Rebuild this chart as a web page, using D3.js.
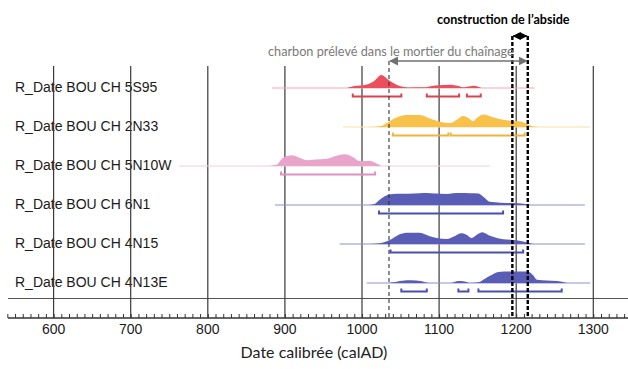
<!DOCTYPE html>
<html>
<head>
<meta charset="utf-8">
<script src="https://cdn.jsdelivr.net/npm/d3@7"></script>
<style>
  body { margin: 0; background: #fff; }
  svg { display: block; }
</style>
</head>
<body>
<svg width="628" height="369"></svg>
<script>
// samples, top to bottom
let labels = ['R_Date BOU CH 5S95', 'R_Date BOU CH 2N33', 'R_Date BOU CH 5N10W',
    'R_Date BOU CH 6N1', 'R_Date BOU CH 4N15', 'R_Date BOU CH 4N13E']
let fills = ['#ea4f5c', '#f8c24a', '#e9a4cc', '#5a5db6', '#5a5db6', '#5a5db6']
let lineColors = ['#f3aab2', '#fbe0a2', '#f0cde2', '#8e90d2', '#8e90d2', '#8e90d2']
let bracketColors = ['#d9434f', '#efb43c', '#df8fc0', '#4a4eb0', '#4a4eb0', '#4a4eb0']

// calibrated probability curves, [year, relative density]
let dens5S95 = [[980, 0], [990, 0.15], [1005, 0.25], [1015, 0.5], [1025, 1.0], [1035, 0.6], [1049, 0.15], [1060, 0.04],
    [1079, 0.05], [1095, 0.2], [1114, 0.25], [1125, 0.15], [1131, 0.05], [1136, 0.1], [1145, 0.18], [1155, 0]]
let dens2N33 = [[1010, 0], [1023, 0.05], [1036, 0.45], [1048, 0.8], [1058, 0.92], [1075, 0.92], [1088, 0.65], [1101, 0.4],
    [1114, 0.3], [1124, 0.6], [1131, 0.85], [1138, 0.7], [1144, 0.45], [1150, 0.75], [1157, 0.97], [1170, 0.75],
    [1183, 0.55], [1207, 0.4], [1215, 0.2], [1225, 0.02], [1235, 0]]
let dens5N10W = [[875, 0], [889, 0.1], [897, 0.6], [909, 0.82], [918, 0.65], [928, 0.45], [940, 0.5], [954, 0.55],
    [968, 0.8], [978, 0.9], [988, 0.7], [997, 0.38], [1005, 0.38], [1010, 0.4], [1017, 0.25], [1025, 0]]
let dens6N1 = [[1008, 0], [1015, 0.05], [1025, 0.5], [1035, 0.8], [1045, 0.87], [1060, 0.87], [1075, 0.9], [1084, 0.92],
    [1095, 0.88], [1110, 0.85], [1118, 0.9], [1127, 0.92], [1140, 0.9], [1151, 0.88], [1158, 0.6], [1166, 0.25],
    [1180, 0.18], [1196, 0.15], [1210, 0.1], [1218, 0]]
let dens4N15 = [[1010, 0], [1023, 0.05], [1036, 0.3], [1047, 0.7], [1058, 0.87], [1075, 0.87], [1088, 0.6], [1097, 0.46],
    [1110, 0.38], [1120, 0.6], [1129, 0.82], [1136, 0.7], [1142, 0.46], [1150, 0.75], [1156, 0.9], [1165, 0.65],
    [1175, 0.46], [1196, 0.3], [1209, 0.2], [1222, 0]]
let dens4N13E = [[1035, 0], [1041, 0.05], [1052, 0.18], [1064, 0.21], [1076, 0.15], [1088, 0], [1115, 0], [1125, 0.15],
    [1133, 0.12], [1140, 0], [1151, 0.05], [1160, 0.35], [1166, 0.55], [1177, 0.85], [1195, 0.88], [1214, 0.88],
    [1222, 0.6], [1227, 0.25], [1240, 0.2], [1253, 0.15], [1266, 0]]
let densities = [dens5S95, dens2N33, dens5N10W, dens6N1, dens4N15, dens4N13E]

// extent of the thin line under each curve
let spans = [[883, 1224], [975, 1296], [763, 1166], [887, 1289], [971, 1289], [1006, 1296]]
// 95% ranges (brackets)
let ranges = [
    [[988, 1051], [1084, 1126], [1136, 1154]],
    [[1040, 1112], [1115, 1211]],
    [[895, 1017]],
    [[1022, 1183]],
    [[1037, 1209]],
    [[1051, 1084], [1125, 1138], [1151, 1259]]
]

let majorTicks = [600, 700, 800, 900, 1000, 1100, 1200, 1300]
let charbonRange = [1035, 1215]
let absideRange = [1195, 1215]

let svg = d3.select('svg')
let x = d3.scaleLinear().domain([600, 1300]).range([53.6, 593.3])
let rowY = d3.scalePoint().domain(labels).range([88, 283])
let h = d3.scaleLinear().domain([0, 1]).range([0, 13])
let axisY = 318

// arrow heads
let defs = svg.append('defs')
function marker(id, color, size) {
    defs.append('marker').attr('id', id).attr('viewBox', '0 0 10 10')
        .attr('refX', 9).attr('refY', 5).attr('markerWidth', size).attr('markerHeight', size)
        .attr('orient', 'auto-start-reverse').attr('markerUnits', 'userSpaceOnUse')
        .append('path').attr('d', 'M0,0 L10,5 L0,10 z').attr('fill', color)
}
marker('arrGray', '#707070', 9)
marker('arrBlack', '#000', 8)

// box bottom line
svg.append('line').attr('x1', 8).attr('x2', 628).attr('y1', 298.5).attr('y2', 298.5)
    .attr('stroke', '#555').attr('stroke-width', 1)

// labels
svg.selectAll('text.lab').data(labels).enter().append('text')
    .attr('x', 15).attr('y', d => rowY(d))
    .attr('dominant-baseline', 'middle')
    .attr('font-family', 'Liberation Sans, Arial, sans-serif').attr('font-size', 14)
    .attr('fill', '#1a1a1a')
    .text(d => d)

// grid lines (over the labels, as in the original)
svg.selectAll('line.grid').data(majorTicks).enter().append('line')
    .attr('x1', d => x(d)).attr('x2', d => x(d))
    .attr('y1', 66).attr('y2', axisY)
    .attr('stroke', '#3a3a3a').attr('stroke-width', 1.2)

let area = d3.area().curve(d3.curveMonotoneX)

labels.forEach((lab, i) => {
    let y0 = rowY(lab)
    let g = svg.append('g')
    g.append('line')
        .attr('x1', x(spans[i][0])).attr('x2', x(spans[i][1]))
        .attr('y1', y0).attr('y2', y0)
        .attr('stroke', lineColors[i]).attr('stroke-width', 1)
    area.x(d => x(d[0])).y0(y0).y1(d => y0 - h(d[1]))
    g.append('path').datum(densities[i])
        .attr('d', area)
        .attr('fill', fills[i])
    g.selectAll('path.br').data(ranges[i]).enter().append('path')
        .attr('d', d => {
            let by = y0 + 8.5
            return `M${x(d[0])},${by - 3}L${x(d[0])},${by}L${x(d[1])},${by}L${x(d[1])},${by - 3}`
        })
        .attr('fill', 'none').attr('stroke', bracketColors[i]).attr('stroke-width', 2)
})

// dashed marker lines
svg.append('line')
    .attr('x1', x(charbonRange[0])).attr('x2', x(charbonRange[0]))
    .attr('y1', 61).attr('y2', axisY)
    .attr('stroke', '#333').attr('stroke-width', 1.1).attr('stroke-dasharray', '4,3')
svg.selectAll('line.abs').data(absideRange).enter().append('line')
    .attr('x1', d => x(d)).attr('x2', d => x(d))
    .attr('y1', 36).attr('y2', axisY)
    .attr('stroke', '#000').attr('stroke-width', 2.4).attr('stroke-dasharray', '4,2')

// arrows
svg.append('line')
    .attr('x1', x(charbonRange[0]) + 1).attr('x2', x(charbonRange[1]) - 1)
    .attr('y1', 61).attr('y2', 61)
    .attr('stroke', '#707070').attr('stroke-width', 1.6)
    .attr('marker-start', 'url(#arrGray)').attr('marker-end', 'url(#arrGray)')
svg.append('line')
    .attr('x1', x(absideRange[0]) + 1).attr('x2', x(absideRange[1]) - 1)
    .attr('y1', 36).attr('y2', 36)
    .attr('stroke', '#000').attr('stroke-width', 2)
    .attr('marker-start', 'url(#arrBlack)').attr('marker-end', 'url(#arrBlack)')

svg.append('text').attr('x', 268).attr('y', 55.5)
    .attr('font-family', 'Lato, sans-serif').attr('font-size', 12.7).attr('fill', '#7a7a7a')
    .text('charbon prélevé dans le mortier du chaînage')
svg.append('text').attr('x', 437).attr('y', 24)
    .attr('font-family', 'Lato, sans-serif').attr('font-size', 12.6).attr('font-weight', 'bold').attr('fill', '#000')
    .text('construction de l\u2019abside')

// axis
let axis = d3.axisTop(x).tickValues(d3.range(540, 1350, 10)).tickSize(4).tickFormat('')
let ag = svg.append('g').attr('transform', `translate(0,${axisY})`).call(axis)
ag.select('.domain').remove()
ag.selectAll('.tick line').attr('stroke', '#333')
ag.append('line').attr('x1', 8).attr('x2', 628).attr('stroke', '#333').attr('stroke-width', 1.5)

svg.selectAll('text.tl').data(majorTicks).enter().append('text')
    .attr('x', d => x(d)).attr('y', 333.5)
    .attr('text-anchor', 'middle')
    .attr('font-family', 'Liberation Sans, Arial, sans-serif').attr('font-size', 14)
    .attr('fill', '#1a1a1a')
    .text(d => d)

svg.append('text').attr('x', 314).attr('y', 358)
    .attr('text-anchor', 'middle')
    .attr('font-family', 'Lato, sans-serif').attr('font-size', 16).attr('fill', '#222')
    .text('Date calibrée (calAD)')
</script>
</body>
</html>
